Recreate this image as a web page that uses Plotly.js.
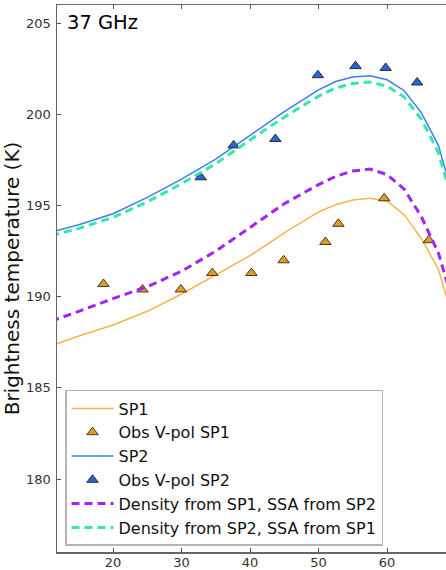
<!DOCTYPE html>
<html><head><meta charset="utf-8">
<script src="https://cdn.plot.ly/plotly-3.0.1.min.js"></script>
<style>html,body{margin:0;padding:0;overflow:hidden;background:#fff}#chart{width:446px;height:570px}</style>
</head><body><div id="chart"></div>
<script>
// Model curves (incidence angle, deg)
const angles = [11, 12, 15, 20, 25, 30, 35, 40, 45, 50, 52.5, 55, 57.5, 60, 62.5, 65, 67.5, 70];
const sp1 = [187.3, 187.45, 187.85, 188.45, 189.2, 190.15, 191.2, 192.25, 193.5, 194.65, 195.05, 195.3, 195.4, 195.25, 194.5, 193.2, 191.5, 188.3];
const sp2 = [193.55, 193.65, 193.95, 194.55, 195.45, 196.45, 197.55, 198.85, 200.15, 201.35, 201.8, 202.05, 202.12, 201.9, 201.3, 200.1, 198.3, 195.0];
const densSp1SsaSp2 = [188.65, 188.8, 189.2, 189.9, 190.55, 191.4, 192.5, 193.8, 195.1, 196.15, 196.6, 196.9, 197.0, 196.7, 195.9, 194.4, 192.4, 189.2];
const densSp2SsaSp1 = [193.35, 193.45, 193.75, 194.35, 195.2, 196.2, 197.3, 198.6, 199.85, 201.0, 201.45, 201.7, 201.78, 201.55, 200.95, 199.75, 197.9, 194.7];
// Observations
const obs1Angles = [18.6, 24.3, 29.9, 34.5, 40.2, 44.9, 51.0, 52.9, 59.6, 66.1];
const obs1Tb = [190.7, 190.4, 190.4, 191.3, 191.3, 192.0, 193.0, 194.0, 195.4, 193.1];
const obs2Angles = [32.8, 37.6, 43.7, 49.9, 55.4, 59.8, 64.4];
const obs2Tb = [196.55, 198.3, 198.65, 202.15, 202.65, 202.55, 201.75];
const xTicks = [20, 30, 40, 50, 60];
const yTicks = [180, 185, 190, 195, 200, 205];

const F = 'DejaVu Sans, Liberation Sans, sans-serif';
const traces = [
  {x: angles, y: sp1, name: 'SP1', mode: 'lines', line: {color: '#f7b44a', width: 1.5}},
  {x: obs1Angles, y: obs1Tb, name: 'Obs V-pol SP1', mode: 'markers',
   marker: {symbol: 'triangle-up', size: 10, color: '#e89b1a', line: {color: '#3a3a3a', width: 1}}},
  {x: angles, y: sp2, name: 'SP2', mode: 'lines', line: {color: '#3f7fe3', width: 1.5}},
  {x: obs2Angles, y: obs2Tb, name: 'Obs V-pol SP2', mode: 'markers',
   marker: {symbol: 'triangle-up', size: 10, color: '#2766d6', line: {color: '#2a2a3a', width: 1}}},
  {x: angles, y: densSp1SsaSp2, name: 'Density from SP1, SSA from SP2', mode: 'lines',
   line: {color: '#a224f0', width: 3, dash: '8px,5px'}},
  {x: angles, y: densSp2SsaSp1, name: 'Density from SP2, SSA from SP1', mode: 'lines',
   line: {color: '#36e6b2', width: 3, dash: '8px,5px'}}
];
const layout = {
  width: 446, height: 570,
  margin: {l: 57, r: 0, t: 5, b: 18, pad: 0},
  paper_bgcolor: '#fff', plot_bgcolor: '#fff',
  font: {family: F, color: '#222'},
  showlegend: true,
  legend: {x: 0.0206, y: 0.011, xanchor: 'left', yanchor: 'bottom',
    bgcolor: '#fff', bordercolor: '#b4b4b4', borderwidth: 1.5, itemwidth: 42,
    font: {family: F, size: 16, color: '#111'}, tracegroupgap: 0},
  xaxis: {range: [11.82, 68.61], tickvals: xTicks, ticks: 'inside', ticklen: 4, tickwidth: 1,
    tickcolor: '#555', showline: true, linecolor: '#666', linewidth: 1.5, mirror: 'ticks',
    showgrid: false, zeroline: false, tickfont: {family: F, size: 13, color: '#333'},
    ticklabelstandoff: -2},
  yaxis: {range: [176.0, 206.0], tickvals: yTicks, ticks: 'inside', ticklen: 4, tickwidth: 1,
    tickcolor: '#555', showline: true, linecolor: '#666', linewidth: 1.5, mirror: false,
    showgrid: false, zeroline: false, tickfont: {family: F, size: 13, color: '#333'},
    ticklabelstandoff: 2,
    title: {text: 'Brightness temperature (K)', font: {family: F, size: 20, color: '#111'}, standoff: 6}},
  annotations: [{xref: 'paper', yref: 'paper', x: 0.02, y: 0.993, xanchor: 'left', yanchor: 'top',
    text: '37 GHz', showarrow: false, font: {family: F, size: 19.5, color: '#000'}}]
};
Plotly.newPlot('chart', traces, layout, {displayModeBar: false, staticPlot: true});
</script></body></html>
